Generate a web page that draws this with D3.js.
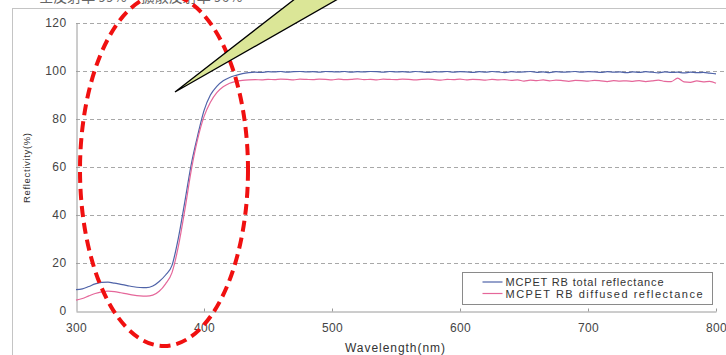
<!DOCTYPE html>
<html>
<head>
<meta charset="utf-8">
<script src="https://cdn.jsdelivr.net/npm/d3@7/dist/d3.min.js"></script>
<style>
  html, body { margin: 0; padding: 0; background: #fff; }
  svg { display: block; font-family: Arial, "Liberation Sans", sans-serif; }
</style>
</head>
<body>
<div id="chart"></div>
<script>
// wavelength grid (nm), 5 nm step
const wavelengths = d3.range(300, 801, 5);

const totalReflectance = [
  8.9, 9.2, 10.2, 11.3, 11.9, 12.0, 11.6, 11.1, 10.6, 10.1,
  9.8, 9.7, 10.4, 12.3, 15.0, 19.0, 30.5, 45.5, 61.0, 73.0,
  83.5, 90.0, 93.6, 95.9, 97.3, 98.2, 98.9, 99.3, 99.5, 99.4,
  99.7, 99.6, 99.8, 99.5, 99.7, 99.8, 99.6, 99.7, 99.5, 99.8,
  99.7, 99.6, 99.8, 99.5, 99.7, 99.6, 99.8, 99.7, 99.5, 99.8,
  99.6, 99.7, 99.5, 99.8, 99.6, 99.4, 99.7, 99.6, 99.8, 99.5,
  99.7, 99.6, 99.4, 99.7, 99.5, 99.8, 99.6, 99.3, 99.7, 99.5,
  99.6, 99.8, 99.4, 99.6, 99.3, 99.7, 99.5, 99.6, 99.8, 99.5,
  99.7, 99.6, 99.4, 99.7, 99.5, 99.6, 99.3, 99.6, 99.4, 99.7,
  99.5, 99.2, 99.6, 99.4, 99.5, 99.2, 99.5, 99.3, 99.4, 99.1,
  98.8
];

const diffusedReflectance = [
  4.5, 5.2, 6.3, 7.3, 8.0, 8.3, 8.1, 7.6, 7.1, 6.6,
  6.3, 6.2, 6.6, 8.2, 11.3, 16.0, 27.0, 42.0, 58.5, 71.5,
  81.0, 87.0, 91.0, 93.4, 94.9, 95.7, 96.1, 96.3, 96.4, 96.3,
  96.5, 96.4, 96.6, 96.5, 96.3, 96.6, 96.5, 96.4, 96.6, 96.5,
  96.3, 96.6, 96.4, 96.5, 96.7, 96.4, 96.5, 96.3, 96.6, 96.5,
  96.4, 96.6, 96.5, 96.3, 96.5, 96.6, 96.4, 96.2, 96.5, 96.4,
  96.6, 96.3, 96.5, 96.4, 96.2, 96.5, 96.3, 96.4, 96.1, 96.3,
  95.8, 96.2, 96.0, 96.3, 95.9, 96.2, 96.0, 95.7, 96.1, 96.0,
  95.8, 96.1, 95.9, 95.6, 96.0, 95.8, 95.9, 95.7, 96.0, 95.6,
  95.9, 96.2, 95.7, 95.6, 97.0, 95.5, 95.3, 95.9, 95.5, 95.7,
  94.9
];

const xTicks = [300, 400, 500, 600, 700, 800];
const yTicks = [0, 20, 40, 60, 80, 100, 120];

const seriesList = [
  { name: 'MCPET RB total reflectance', values: totalReflectance, color: '#4f63a8' },
  { name: 'MCPET RB diffused reflectance', values: diffusedReflectance, color: '#e5679a' },
];

const W = 726, H = 355;
const svg = d3.select('#chart').append('svg')
  .attr('width', W).attr('height', H)
  .attr('viewBox', `0 0 ${W} ${H}`);

// outer frame + cut-off caption from the source document
svg.append('rect')
  .attr('x', 12.5).attr('y', 8.5)
  .attr('width', 740).attr('height', 360)
  .attr('fill', 'none').attr('stroke', '#c4c4c4').attr('stroke-width', 1);

svg.append('text')
  .attr('x', 22).attr('y', 2)
  .attr('font-family', '"Noto Sans CJK TC", "Noto Sans CJK SC", sans-serif')
  .attr('font-size', 14).attr('fill', '#666')
  .text('－ 全反射率 99%，擴散反射率 96%');

const x = d3.scaleLinear().domain([300, 800]).range([76, 716]);
const y = d3.scaleLinear().domain([0, 120]).range([311, 23]);

// grid
svg.append('g')
  .selectAll('line')
  .data(yTicks.filter(d => d > 0))
  .join('line')
  .attr('x1', x(300)).attr('x2', W)
  .attr('y1', d => Math.round(y(d)) + 0.5).attr('y2', d => Math.round(y(d)) + 0.5)
  .attr('stroke', '#a8a8a8')
  .attr('stroke-width', 1)
  .attr('stroke-dasharray', '4 3');

// axes
const xAxis = svg.append('g')
  .attr('transform', `translate(0,${Math.round(y(0)) + 0.5})`)
  .call(d3.axisBottom(x).tickValues(xTicks).tickSize(-3).tickSizeOuter(0).tickPadding(12));
const yAxis = svg.append('g')
  .attr('transform', `translate(${Math.round(x(300)) + 0.5},0)`)
  .call(d3.axisLeft(y).tickValues(yTicks).tickSize(0).tickPadding(10));

[xAxis, yAxis].forEach(a => {
  a.select('.domain').attr('stroke', '#9a9a9a');
  a.selectAll('.tick line').attr('stroke', '#9a9a9a');
  a.selectAll('.tick text')
    .attr('fill', '#444')
    .attr('font-size', 12)
    .attr('letter-spacing', 0.4)
    .attr('font-family', 'Arial, "Liberation Sans", sans-serif');
});
xAxis.selectAll('.tick').filter(d => d === 300).select('line').remove();

svg.append('text')
  .attr('x', 345).attr('y', 352)
  .attr('font-size', 12).attr('fill', '#333')
  .attr('textLength', 100).attr('lengthAdjust', 'spacing')
  .text('Wavelength(nm)');

svg.append('text')
  .attr('transform', 'translate(30,203) rotate(-90)')
  .attr('font-size', 9.5).attr('fill', '#333')
  .attr('textLength', 70).attr('lengthAdjust', 'spacing')
  .text('Reflectivity(%)');

// lines
const line = d3.line()
  .x((d, i) => x(wavelengths[i]))
  .y(d => y(d))
  .curve(d3.curveMonotoneX);

svg.append('g')
  .selectAll('path')
  .data(seriesList)
  .join('path')
  .attr('d', s => line(s.values))
  .attr('fill', 'none')
  .attr('stroke', s => s.color)
  .attr('stroke-width', 1.2)
  .attr('stroke-linejoin', 'round');

// legend
const legend = svg.append('g').attr('transform', 'translate(462.5,272.5)');
legend.append('rect')
  .attr('width', 250).attr('height', 32)
  .attr('fill', '#fff').attr('stroke', '#8a8a8a').attr('stroke-width', 1);
const legendWidths = [158, 197];
seriesList.forEach((s, i) => {
  const row = legend.append('g').attr('transform', `translate(0,${9.5 + i * 11.5})`);
  row.append('line')
    .attr('x1', 20).attr('x2', 40)
    .attr('stroke', s.color).attr('stroke-width', 1.2);
  row.append('text')
    .attr('x', 43).attr('y', 4)
    .attr('font-size', 11).attr('fill', '#333')
    .attr('textLength', legendWidths[i]).attr('lengthAdjust', 'spacing')
    .text(s.name);
});

// annotation: red dashed ellipse and callout wedge
svg.append('ellipse')
  .attr('cx', 164).attr('cy', 170)
  .attr('rx', 84).attr('ry', 176)
  .attr('fill', 'none')
  .attr('stroke', '#f01010')
  .attr('stroke-width', 4)
  .attr('stroke-dasharray', '11 6');

svg.append('path')
  .attr('d', 'M175,92 L300,-5 L345,-5 Z')
  .attr('fill', '#dbe697')
  .attr('stroke', '#000')
  .attr('stroke-width', 1.3)
  .attr('stroke-linejoin', 'miter');
</script>
</body>
</html>
